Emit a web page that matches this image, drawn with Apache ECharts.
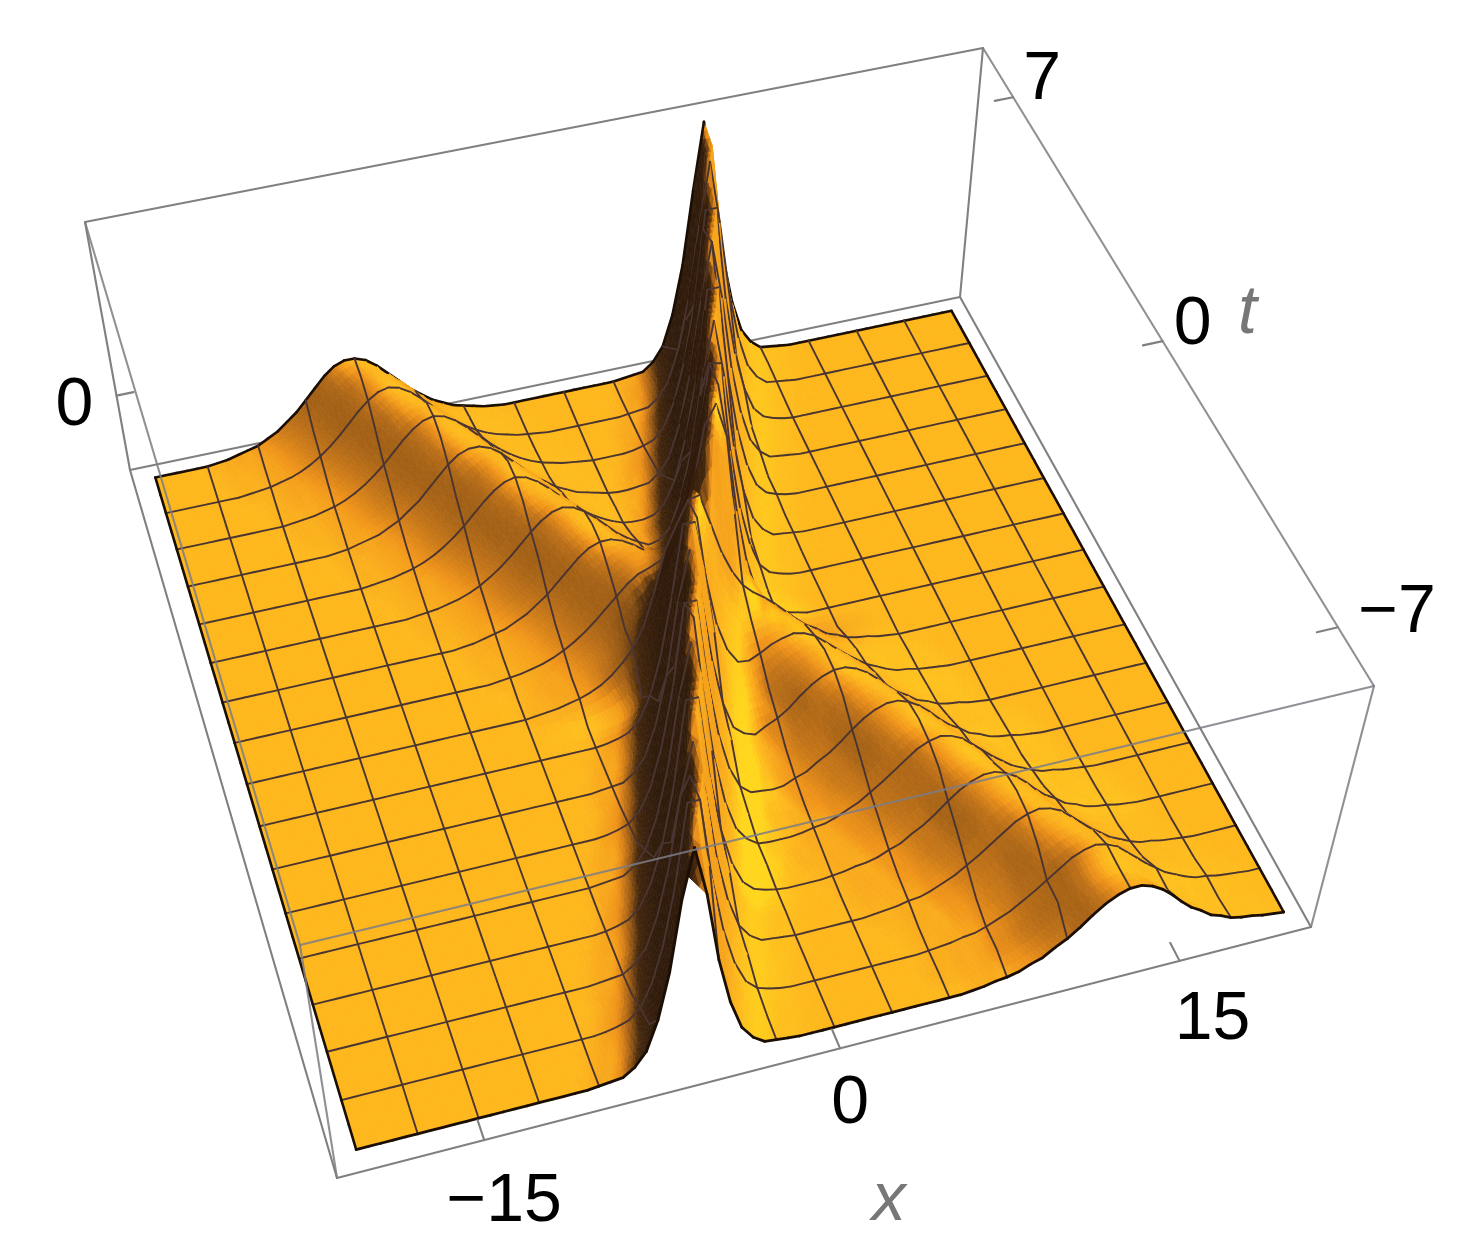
<!DOCTYPE html>
<html><head><meta charset="utf-8">
<style>html,body{margin:0;padding:0;background:#fff}#c{width:1468px;height:1258px}</style>
<script src="https://cdn.jsdelivr.net/npm/echarts@6/dist/echarts.min.js"></script>
</head><body><div id="c"></div>
<script>
// Surface heights, unit = 0.5% of the box height above the flat sheet.
// One row per t (8 down to -8, step 0.5); each row starts at the x given in rowStartX (step 0.5).
const tRows=[8,7.5,7,6.5,6,5.5,5,4.5,4,3.5,3,2.5,2,1.5,1,0.5,0,-0.5,-1,-1.5,-2,-2.5,-3,-3.5,-4,-4.5,-5,-5.5,-6,-6.5,-7,-7.5,-8];
const rowStartX=[-17,-16.5,-16,-15,-14.5,-14,-13,-12.5,-12,-11,-10.5,-10,-9,-8.5,-8,-7,-7,-4,-4.5,-5,-5.5,-5.5,-6,-6.5,-7,-7,-7.5,-8,-8.5,-8.5,-9,-9.5,-10];
const zRows=[
[1,2,4,6,8,12,16,22,28,36,44,52,58,61,61,58,52,44,36,28,22,16,12,8,6,4,2,1,0,0,0,0,0,0,0,0,0,0,0,0,1,2,3,9,20,44,82,140,194,140,82,44,20,9,3,2,1],
[1,2,3,5,7,10,14,19,25,32,40,48,55,60,62,60,55,48,40,32,25,19,14,10,7,5,3,2,1,0,0,0,0,0,0,0,0,0,0,1,3,6,14,32,62,108,188,188,108,62,32,14,6,3,1],
[1,2,3,5,7,10,14,19,25,32,40,48,55,60,62,60,55,48,40,32,25,19,14,10,7,5,3,2,1,0,0,0,0,0,0,0,0,1,2,3,9,20,44,82,140,190,140,82,44,20,9,3,2,1],
[1,2,4,6,8,12,16,22,28,36,44,52,58,61,61,58,52,44,36,28,22,16,12,8,6,4,2,1,0,0,0,0,0,0,1,2,3,9,20,44,82,140,188,140,82,44,20,9,3,2,1],
[1,2,3,5,7,10,14,19,25,32,40,48,55,60,62,60,55,48,40,32,25,19,14,10,7,5,3,2,1,0,0,0,0,1,3,6,14,32,62,108,182,182,108,62,32,14,6,3,1],
[1,2,3,5,7,10,14,19,25,32,40,48,55,60,62,60,55,48,40,32,25,19,14,10,7,5,3,2,1,0,0,1,3,6,14,32,62,108,182,182,108,62,32,14,6,3,1],
[1,2,4,6,8,12,16,22,28,36,44,52,58,61,61,58,52,44,36,28,22,16,12,8,6,4,2,1,1,2,3,9,20,44,82,140,186,140,82,44,20,9,3,2,1],
[1,2,3,5,7,10,14,19,25,32,40,48,55,60,62,60,55,48,40,32,25,19,14,10,7,5,4,4,4,9,20,44,82,140,186,140,82,44,20,9,3,2,1],
[1,2,3,5,7,10,14,19,25,32,40,48,55,60,62,60,55,48,40,32,25,19,14,10,7,6,6,8,15,32,62,108,180,180,108,62,32,14,6,3,1],
[1,2,4,6,8,12,16,22,28,36,44,52,58,61,61,58,52,44,36,28,22,16,13,11,12,18,34,63,108,180,180,108,62,32,14,6,3,1],
[1,2,3,5,7,10,14,19,25,32,40,48,55,60,62,60,55,48,40,32,26,21,17,19,27,49,85,142,186,140,82,44,20,9,3,2,1],
[1,2,3,5,7,10,14,19,25,32,40,48,55,60,62,60,55,48,41,34,28,28,34,54,89,145,186,142,83,44,20,9,3,2,1],
[1,2,4,6,8,12,16,22,28,36,44,52,58,61,61,58,53,47,42,42,54,78,120,186,184,112,64,33,14,6,3,1],
[1,2,3,5,7,10,14,19,25,32,40,48,55,60,63,63,61,62,72,94,133,185,184,118,69,37,17,8,4,1],
[1,2,3,5,7,10,14,19,25,32,40,48,56,62,65,69,75,92,122,170,186,158,96,54,27,14,6,4,2],
[1,2,4,6,8,12,16,22,28,37,46,55,67,81,105,140,165,178,160,110,66,36,21,11,8,5,2,1],
[1,2,3,5,7,10,14,20,28,38,54,80,112,130,148,150,125,100,82,69,61,55,48,40,32,25,20,14,11,7,5,4,2,1],
[1,3,6,14,32,62,105,150,150,120,88,67,57,56,57,57,54,50,43,36,29,23,17,13,9,6,5,3,2,1],
[1,3,6,14,32,62,108,165,165,118,78,55,43,42,46,51,54,56,54,50,43,36,29,23,17,13,9,6,5,3,2,1],
[1,2,3,9,20,44,82,140,178,145,89,55,34,29,28,34,41,47,52,55,55,52,47,40,32,25,20,14,11,7,5,4,2,1],
[1,2,3,9,20,44,82,140,180,140,86,49,27,20,17,22,26,32,40,47,52,55,55,52,47,40,32,25,20,14,11,7,5,4,2,1],
[1,3,6,14,32,62,108,176,176,108,62,35,19,12,12,14,17,23,29,36,43,50,54,56,54,50,43,36,29,23,17,13,9,6,5,3,2,1],
[1,3,6,14,32,62,108,176,176,108,62,32,15,8,7,6,7,11,14,20,25,32,40,47,52,55,55,52,47,40,32,25,20,14,11,7,5,4,2,1],
[1,2,3,9,20,44,82,140,182,140,82,44,20,9,4,4,5,5,7,11,14,20,25,32,40,47,52,55,55,52,47,40,32,25,20,14,11,7,5,4,2,1],
[1,2,3,9,20,44,82,140,182,140,82,44,20,9,3,2,2,2,3,5,6,9,13,17,23,29,36,43,50,54,56,54,50,43,36,29,23,17,13,9,6,5,3,2,1],
[1,3,6,14,32,62,108,176,176,108,62,32,14,6,3,1,0,1,2,3,5,6,9,13,17,23,29,36,43,50,54,56,54,50,43,36,29,23,17,13,9,6,5,3,2,1],
[1,3,6,14,32,62,108,176,176,108,62,32,14,6,3,1,0,0,0,0,1,2,4,5,7,11,14,20,25,32,40,47,52,55,55,52,47,40,32,25,20,14,11,7,5,4,2,1],
[1,2,3,9,20,44,82,140,182,140,82,44,20,9,3,2,1,0,0,0,0,0,1,2,4,5,7,11,14,20,25,32,40,47,52,55,55,52,47,40,32,25,20,14,11,7,5,4,2,1],
[1,2,3,9,20,44,82,140,182,140,82,44,20,9,3,2,1,0,0,0,0,0,0,0,1,2,3,5,6,9,13,17,23,29,36,43,50,54,56,54,50,43,36,29,23,17,13,9,6,5,3,2,1],
[1,3,6,14,32,62,108,176,176,108,62,32,14,6,3,1,0,0,0,0,0,0,0,0,0,0,1,2,4,5,7,11,14,20,25,32,40,47,52,55,55,52,47,40,32,25,20,14,11,7,5,4,2,1],
[1,3,6,14,32,62,108,176,176,108,62,32,14,6,3,1,0,0,0,0,0,0,0,0,0,0,0,0,1,2,3,5,6,9,13,17,23,29,36,43,50,54,56,54,50,43,36,29,23,17,13,9,6,5,3,2,1],
[1,2,3,9,20,44,82,140,182,140,82,44,20,9,3,2,1,0,0,0,0,0,0,0,0,0,0,0,0,1,2,3,5,6,9,13,17,23,29,36,43,50,54,56,54,50,43,36,29,23,17,13,9,6,5,3,2,1],
[1,2,3,9,20,44,82,140,182,140,82,44,20,9,3,2,1,0,0,0,0,0,0,0,0,0,0,0,0,0,0,0,1,2,4,5,7,11,14,20,25,32,40,47,52,55,55,52,47,40,32,25,20,14,11,7,5,4,2,1]
];
const xTicks=[-15,0,15];
const xTickLabels=['\u221215','0','15'];
const tTicks=[7,0,-7];
const tTickLabels=['7','0','\u22127'];
const zTicks=[0];
const zTickLabels=['0'];

// ----- view -----
const X0=-20,DX=0.5,NX=81,NT=tRows.length,MESH_X=2.5,MESH_T=1;
const Z=tRows.map((_,j)=>{const r=new Array(NX).fill(0);const s=Math.round((rowStartX[j]-X0)/DX);zRows[j].forEach((v,k)=>{if(s+k<NX)r[s+k]=v;});return r;});
const BOX={xMin:-21,xMax:21,tMin:-8.3,tMax:8.55};
const BOTTOM=[[337,1178],[1311,927],[960,297],[130,470]];
const TOP=[[300,945],[1374,686],[983,48],[85,222]];
const SHEET=3,HUNIT=0.5; // percent of box height
function quad(q){const[x0,y0]=q[0],[x1,y1]=q[1],[x2,y2]=q[2],[x3,y3]=q[3];
 const dx1=x1-x2,dx2=x3-x2,sx=x0-x1+x2-x3,dy1=y1-y2,dy2=y3-y2,sy=y0-y1+y2-y3,den=dx1*dy2-dx2*dy1;
 const g=(sx*dy2-dx2*sy)/den,h=(dx1*sy-sx*dy1)/den;
 return (u,v)=>{const w=g*u+h*v+1;return[((x1-x0+g*x1)*u+(x3-x0+h*x3)*v+x0)/w,((y1-y0+g*y1)*u+(y3-y0+h*y3)*v+y0)/w];};}
const HB=quad(BOTTOM),HT=quad(TOP);
function project(x,t,pct){const u=(x-BOX.xMin)/(BOX.xMax-BOX.xMin),v=(t-BOX.tMin)/(BOX.tMax-BOX.tMin),w=pct/100;
 const a=HB(u,v),b=HT(u,v);return[a[0]+(b[0]-a[0])*w,a[1]+(b[1]-a[1])*w];}

// ----- shading -----
const LIGHT=[0.5,-0.3,0.81],FLAT=0.81,PXH=1.2,PXX=23,PXT=42;
const STOPS=[[-0.3,[48,27,12]],[0.1,[68,40,14]],[0.3,[132,78,20]],[0.5,[192,114,24]],[0.65,[240,148,26]],[0.81,[254,184,29]],[0.93,[255,214,28]]];
function shadeColor(s){let a=STOPS[0],b=STOPS[STOPS.length-1];if(s<=a[0])return a[1];if(s>=b[0])return b[1];
 for(let k=0;k<STOPS.length-1;k++){if(s<=STOPS[k+1][0]){a=STOPS[k];b=STOPS[k+1];break;}}
 const f=(s-a[0])/(b[0]-a[0]);return a[1].map((c,n)=>c+(b[1][n]-c)*f);}
const rgb=c=>'rgb('+Math.round(c[0])+','+Math.round(c[1])+','+Math.round(c[2])+')';
const S=Z.map((r,j)=>r.map((_,i)=>{
 const zx=(Z[j][Math.min(i+1,NX-1)]-Z[j][Math.max(i-1,0)])/((Math.min(i+1,NX-1)-Math.max(i-1,0))*DX)*PXH/PXX;
 const j0=Math.max(j-1,0),j1=Math.min(j+1,NT-1);
 const zt=(Z[j0][i]-Z[j1][i])/((tRows[j0]-tRows[j1]))*PXH/PXT;
 const n=Math.hypot(zx,zt,1);let s=(-zx*LIGHT[0]-zt*LIGHT[1]+LIGHT[2])/n;
 if(s>FLAT&&tRows[j]>1)s=FLAT+(s-FLAT)*0.35;
 if(s>FLAT&&tRows[j]<-5)s=FLAT+(s-FLAT)*0.45;
 return s;}));

// cells: far rows first, right to left (viewer sits beyond the left side)
const cells=[];for(let j=0;j<NT-1;j++)for(let i=NX-2;i>=0;i--)cells.push([i,j]);
const onMesh=(v,st)=>{const k=v/st;return Math.abs(k-Math.round(k))<1e-6;};
const MESH='#4a3532',EDGE='#1a0e05';

function renderCell(params,api){
 const i=api.value(0),j=api.value(1);
 const xL=X0+i*DX,xR=xL+DX,tF=tRows[j],tN=tRows[j+1];
 const P=(x,t,z)=>api.coord(project(x,t,SHEET+z*HUNIT));
 const zbl=Z[j+1][i],zbr=Z[j+1][i+1],ztr=Z[j][i+1],ztl=Z[j][i];
 const bl=P(xL,tN,zbl),br=P(xR,tN,zbr),tr=P(xR,tF,ztr),tl=P(xL,tF,ztl);
 const sbl=S[j+1][i],sbr=S[j+1][i+1],str=S[j][i+1],stl=S[j][i];
 const ch=[];
 const poly=(pts,s)=>{const c=rgb(shadeColor(s));ch.push({type:'polygon',shape:{points:pts},style:{fill:c,stroke:c,lineWidth:0.7}});};
 const tri=(A,B,C,sa,sb,sc,n)=>{
  const p=(a,b)=>[A[0]+(B[0]-A[0])*a/n+(C[0]-A[0])*b/n,A[1]+(B[1]-A[1])*a/n+(C[1]-A[1])*b/n];
  const sh=(a,b)=>sa+(sb-sa)*a/n+(sc-sa)*b/n;
  for(let a=0;a<n;a++)for(let b=0;b<n-a;b++){
   poly([p(a,b),p(a+1,b),p(a,b+1)],sh(a+1/3,b+1/3));
   if(a+b<n-1)poly([p(a+1,b),p(a+1,b+1),p(a,b+1)],sh(a+2/3,b+2/3));}};
 const spread=Math.max(sbl,sbr,str,stl)-Math.min(sbl,sbr,str,stl);
 const flatZ=Math.max(zbl,zbr,ztr,ztl)-Math.min(zbl,zbr,ztr,ztl);
 if(spread<0.012&&flatZ<2){poly([bl,br,tr,tl],(sbl+sbr+str+stl)/4);}
 else{const n=spread>0.1?3:2;
  if(Math.abs(zbl-ztr)<Math.abs(zbr-ztl)){ // split along the ridge-like diagonal
   tri(bl,tr,tl,sbl,str,stl,n);tri(bl,br,tr,sbl,sbr,str,n);
  }else{
   tri(tl,tr,br,stl,str,sbr,n);tri(tl,br,bl,stl,sbr,sbl,n);
  }}
 const seg=(a,b,col,w)=>ch.push({type:'line',shape:{x1:a[0],y1:a[1],x2:b[0],y2:b[1]},style:{stroke:col,lineWidth:w,lineCap:'round'}});
 if(j===0)seg(tl,tr,EDGE,2.6);else if(onMesh(tF,MESH_T))seg(tl,tr,MESH,1.9);
 if(i===NX-2)seg(tr,br,EDGE,2.6);else if(onMesh(xR,MESH_X))seg(tr,br,MESH,1.9);
 if(i===0)seg(tl,bl,EDGE,2.6);
 if(j===NT-2)seg(bl,br,EDGE,2.8);
 return{type:'group',children:ch};
}
const backEdges=[[BOX.xMin,BOX.tMin,0,BOX.xMax,BOX.tMin,0],[BOX.xMax,BOX.tMin,0,BOX.xMax,BOX.tMax,0],[BOX.xMax,BOX.tMax,0,BOX.xMin,BOX.tMax,0],[BOX.xMin,BOX.tMax,0,BOX.xMin,BOX.tMin,0],
 [BOX.xMax,BOX.tMax,0,BOX.xMax,BOX.tMax,100],[BOX.xMin,BOX.tMax,0,BOX.xMin,BOX.tMax,100],[BOX.xMin,BOX.tMax,100,BOX.xMax,BOX.tMax,100]];
const frontEdges=[[BOX.xMax,BOX.tMax,100,BOX.xMax,BOX.tMin,100],[BOX.xMax,BOX.tMin,100,BOX.xMin,BOX.tMin,100],[BOX.xMin,BOX.tMin,100,BOX.xMin,BOX.tMax,100],[BOX.xMin,BOX.tMin,0,BOX.xMin,BOX.tMin,100],[BOX.xMax,BOX.tMin,0,BOX.xMax,BOX.tMin,100]];
const tickEdges=[
 ...xTicks.map(x=>[x,BOX.tMin,0,x,BOX.tMin+0.4,0]),
 ...tTicks.map(t=>[BOX.xMax,t,100,BOX.xMax-0.9,t,100]),
 ...zTicks.map(z=>[BOX.xMin,BOX.tMax,30+z,BOX.xMin+0.8,BOX.tMax,30+z])];
function renderEdge(color,width,opacity){return(params,api)=>{
 const a=api.coord(project(api.value(0),api.value(1),api.value(2))),b=api.coord(project(api.value(3),api.value(4),api.value(5)));
 return{type:'line',shape:{x1:a[0],y1:a[1],x2:b[0],y2:b[1]},style:{stroke:color,lineWidth:width,opacity:opacity,lineCap:'round'}};};}
const xLabelOff=[[20,62],[10,56],[33,59]],tLabelOff=[[29,-17],[30,-16],[59,-14]];
const labelData=[
 ...xTickLabels.map((s,k)=>({value:[xTicks[k],BOX.tMin,0,xLabelOff[k][0],xLabelOff[k][1]],s,k:'n'})),
 ...tTickLabels.map((s,k)=>({value:[BOX.xMax,tTicks[k],100,tLabelOff[k][0],tLabelOff[k][1]],s,k:'n'})),
 ...zTickLabels.map((s,k)=>({value:[BOX.xMin,BOX.tMax,30+zTicks[k],-42,11],s,k:'n'})),
 {value:[BOX.xMax,1.2,100,112,17],s:'t',k:'a'},
 {value:[3.2,BOX.tMin,0,-25,172],s:'x',k:'a'}];
function renderLabel(params,api){
 const d=labelData[params.dataIndex];
 const p=api.coord(project(api.value(0),api.value(1),api.value(2)));
 return{type:'text',style:{text:d.s,x:p[0]+api.value(3),y:p[1]+api.value(4),align:'center',verticalAlign:'middle',
  font:d.k==='a'?'italic 68px "Liberation Sans"':'68px "Liberation Sans"',fill:d.k==='a'?'#777777':'#000000'}};}

const chart=echarts.init(document.getElementById('c'),null,{renderer:'canvas'});
const custom=(data,renderItem,z)=>({type:'custom',coordinateSystem:'cartesian2d',data,renderItem,clip:false,silent:true,z,animation:false,progressive:0,encode:{x:0,y:1}});
chart.setOption({animation:false,backgroundColor:'#fff',
 grid:{left:0,right:0,top:0,bottom:0},
 xAxis:{type:'value',min:0,max:1468,show:false},
 yAxis:{type:'value',min:0,max:1258,inverse:true,show:false},
 series:[
  custom(backEdges,renderEdge('#808080',2.1,1),1),
  custom(cells,renderCell,2),
  custom(frontEdges,renderEdge('#7d7d85',2.1,0.85),3),
  custom(tickEdges,renderEdge('#808080',2.1,1),3),
  custom(labelData.map(d=>d.value),renderLabel,4)
 ]});
</script></body></html>
